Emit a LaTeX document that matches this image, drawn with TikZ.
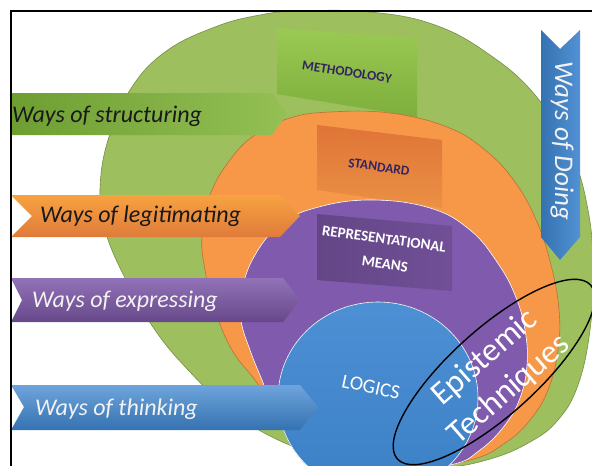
\documentclass[tikz,border=0pt]{standalone}
\usepackage{fontspec}
\setmainfont{Carlito}
\definecolor{cgreen}{RGB}{157,191,94}
\definecolor{corange}{RGB}{247,152,72}
\definecolor{cpurple}{RGB}{128,90,172}
\definecolor{cblue}{RGB}{62,134,208}
\definecolor{cdark}{RGB}{52,36,96}
\definecolor{methA}{RGB}{154,202,82}
\definecolor{methB}{RGB}{126,174,60}
\definecolor{gbanA}{RGB}{110,158,50}
\definecolor{gbanB}{RGB}{148,192,84}
\tikzset{
  zone/.style={line width=0.6pt},
  btext/.style={inner sep=0pt, anchor=base west, font=\fontsize{24}{24}\selectfont\itshape},
  boxtext/.style={inner sep=0pt, font=\fontsize{13.5}{13.5}\selectfont\bfseries, text=cdark},
}
\begin{document}
\begin{tikzpicture}[x=1pt,y=-1pt]
\useasboundingbox (0,0) rectangle (592,466);
\clip (0,0) rectangle (592,466);
\fill[white] (0,0) rectangle (592,466);

% green zone
\fill[zone, cgreen, draw=cgreen!75!black] plot[smooth cycle, tension=0.7] coordinates {
 (300,11) (370,12) (435,25) (490,55) (535,95) (570,150) (588,210) (593,270) (590,330)
 (578,385) (558,420) (530,442) (490,459) (440,468) (370,468) (318,455) (270,436) (230,410)
 (190,372) (155,330) (125,278) (105,230) (100,190) (108,140) (130,90) (165,52) (215,27) (260,15)};
% methodology box
\path[top color=methA, bottom color=methB] (277,28) -- (417,38) -- (417,117) -- (277,94) -- cycle;

% orange zone
\fill[zone, corange, draw=corange!75!black] plot[smooth cycle, tension=0.7] coordinates {
 (330,112) (390,113) (447,127) (485,150) (515,182) (537,222) (551,265) (559,310) (558,350)
 (548,390) (530,420) (505,443) (470,460) (400,470) (330,455) (280,415) (255,380) (232,350)
 (215,310) (205,270) (202,235) (210,195) (230,160) (255,135) (290,118)};
% standard box
\path[top color=corange!85!red!90!black, bottom color=corange!95!black] (317,125) -- (442,140) -- (442,208) -- (317,190) -- cycle;

% purple zone
\fill[zone, cpurple, draw=white] plot[smooth cycle, tension=0.7] coordinates {
 (370,200) (430,208) (470,230) (497,262) (515,295) (525,330) (527,365) (520,398) (505,425)
 (480,450) (450,465) (380,472) (310,450) (275,410) (262,380) (250,350) (241,320) (242,290)
 (255,255) (280,225) (315,208)};
% representational means box
\path[left color=cpurple!78!black, right color=cpurple!88!black] (317,214) -- (452,226) -- (452,291) -- (317,280) -- cycle;

% blue zone
\fill[zone, top color=cblue!92!white, bottom color=cblue!95!black, draw=white] (378,398) ellipse [x radius=100, y radius=96];

% banners
\path[left color=gbanA, right color=gbanB] (11,93) -- (272,93) -- (287,114) -- (272,135) -- (11,135) -- cycle;
\path[top color=corange!90!yellow, bottom color=corange!90!red!90!black] (11,195) -- (280,195) -- (300,216) -- (280,237) -- (11,237) -- (32,216) -- cycle;
\path[top color=cpurple!85!white, bottom color=cpurple!80!black] (11,278) -- (283,278) -- (300,300) -- (283,322) -- (11,322) -- (22,300) -- cycle;
\path[top color=cblue!75!white, bottom color=cblue!85!black] (11,385) -- (300,385) -- (318,407) -- (300,430) -- (11,430) -- (24,407) -- cycle;
\path[left color=cblue!85!black, right color=cblue!90!white] (541,30) -- (560,49) -- (580,30) -- (580,237) -- (560,260) -- (541,237) -- cycle;

% banner texts
\node[btext, text=black!90] (tstruct) at (12,122) {Ways of structuring};
\node[btext, text=black!90] (tlegit) at (40,222) {Ways of legitimating};
\node[btext, text=white!95!black] (texpr) at (32,307) {Ways of expressing};
\node[btext, text=white!95!black] (tthink) at (35,415) {Ways of thinking};
\node[inner sep=0pt, rotate=-90, text=white!95!black, font=\fontsize{27}{27}\selectfont\itshape] (tdoing) at (562,141) {Ways of Doing};

% box texts
\node[boxtext, rotate=-9] (tmeth) at (347,72) {METHODOLOGY};
\node[boxtext, rotate=-8] (tstand) at (379,167) {STANDARD};
\node[boxtext, text=white, rotate=-8, font=\fontsize{15}{15}\selectfont\bfseries] (trep) at (384,239) {REPRESENTATIONAL};
\node[boxtext, text=white, rotate=-8, font=\fontsize{15}{15}\selectfont\bfseries] (tmeans) at (385,264) {MEANS};
\node[inner sep=0pt, rotate=-12, text=white, font=\fontsize{20}{20}\selectfont] (tlogic) at (371,387) {LOGICS};

% epistemic techniques
\node[inner sep=0pt, rotate=41, text=white, font=\fontsize{33}{33}\selectfont] (tepi) at (485,358) {Epistemic};
\node[inner sep=0pt, rotate=41, text=white, font=\fontsize{33}{33}\selectfont] (ttech) at (509,390) {Techniques};
\draw[line width=1.4pt, black] (494,372) ellipse [x radius=130, y radius=43, rotate=42];

% frame
\draw[line width=1.6pt] (11,480) -- (11,11) -- (600,11);
\end{tikzpicture}
\end{document}
